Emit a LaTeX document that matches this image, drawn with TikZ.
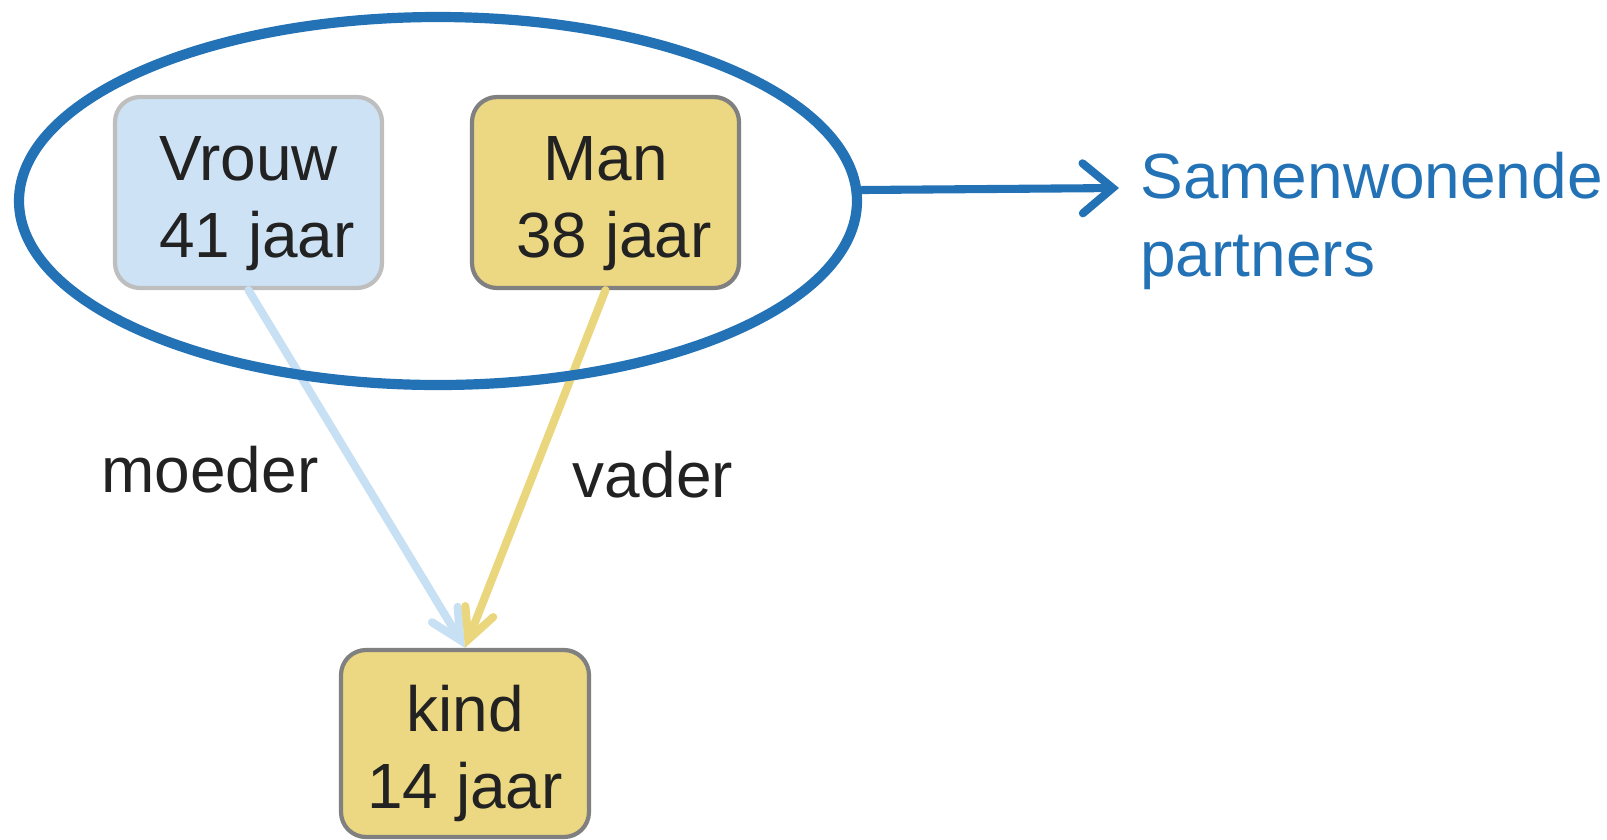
\documentclass[tikz,border=0pt]{standalone}
\usepackage{fontspec}
\setmainfont{Liberation Sans}
\usepackage{tikz}
\usetikzlibrary{arrows.meta,positioning,shapes.geometric}
\definecolor{vrouwvul}{RGB}{205,227,245}
\definecolor{vrouwrand}{RGB}{190,190,190}
\definecolor{manvul}{RGB}{236,216,130}
\definecolor{manrand}{RGB}{128,128,128}
\definecolor{blauw}{RGB}{35,114,182}
\definecolor{pijlblauw}{RGB}{200,224,243}
\definecolor{pijlgeel}{RGB}{234,215,125}
\definecolor{tekst}{RGB}{34,34,34}
\newcommand{\groot}{\fontsize{18.2}{22}\selectfont}
\newcommand{\ruimte}{\rule{0pt}{19pt}}

\begin{document}
\begin{tikzpicture}[
  persoon/.style={draw, rounded corners=0.25cm, line width=1.2pt, align=center,
    minimum width=2.67cm, minimum height=1.91cm, text=tekst, font=\groot},
  barb/.style={-{Straight Barb[length=0.3cm, width=0.3cm, line cap=round]}, line width=2.3pt, line cap=round},
  brede barb/.style={-{Straight Barb[length=0.3cm, width=0.5cm, line cap=round]}, line width=2.3pt, line cap=round}
]
\useasboundingbox (0,0) rectangle (16.07,-8.39);
\node [persoon, fill=vrouwvul, draw=vrouwrand] (vrouw) at (2.485,-1.925) {\ruimte Vrouw\\\hspace*{0.17cm}41 jaar};
\node [persoon, fill=manvul, draw=manrand] (man) at (6.055,-1.925) {\ruimte Man\\\hspace*{0.17cm}38 jaar};
\node [persoon, fill=manvul, draw=manrand, minimum width=2.48cm, minimum height=1.87cm] (kind) at (4.65,-7.435) {\ruimte kind\\14 jaar};
\draw [barb, pijlblauw] (vrouw.south) -- (kind.north);
\draw [barb, pijlgeel] (man.south) -- (kind.north);
\node [font=\groot, text=tekst, anchor=base] (moeder) at (2.10,-4.92) {moeder};
\node [font=\groot, text=tekst, anchor=base] (vader) at (6.53,-4.97) {vader};
% koppel
\node [ellipse, draw=blauw, line width=2.9pt, minimum width=8.38cm, minimum height=3.68cm] (koppel) at (4.38,-2.01) {};
\node [font=\groot, text=blauw, align=left, anchor=west] (partners) at (11.28,-2.21) {Samenwonende\\partners};
\coordinate (pijlpunt) at (11.19,-1.88);
\draw [brede barb, blauw] (koppel.east |- 0,-1.90) -- (pijlpunt);
\end{tikzpicture}
\end{document}
